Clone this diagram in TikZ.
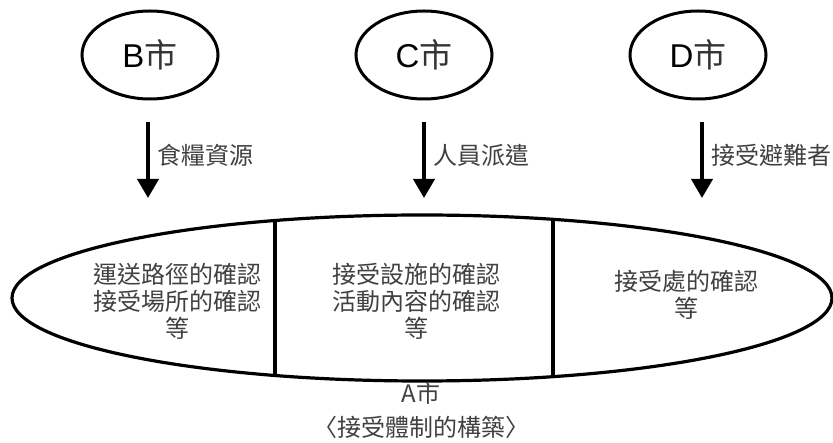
\documentclass[tikz,border=0pt]{standalone}
\usepackage{fontspec}
\setmainfont{Liberation Sans}
\newfontfamily\cjk{Noto Sans CJK TC}
\usetikzlibrary{shapes.geometric,arrows.meta,intersections}
\begin{document}
\begin{tikzpicture}[x=1pt,y=-1pt,
  city/.style={draw, ellipse, line width=3pt, minimum width=136pt, minimum height=88pt, inner sep=0pt,
    font=\fontsize{33}{36}\selectfont},
  flow/.style={line width=3.8pt, -{Triangle[width=21pt,length=19pt]}},
  flowlbl/.style={anchor=west, text=black!75, font=\cjk\fontsize{24}{26}\selectfont, inner sep=0pt},
  region/.style={align=center, text=black!75, font=\cjk\fontsize{24}{27}\selectfont, inner sep=0pt},
  outline/.style={line width=3.2pt}
]
\useasboundingbox (0,0) rectangle (833,443);
% cities
\node[city] (B) at (150,55) {B{\cjk\color{black!80}市}};
\node[city] (C) at (424,55) {C{\cjk\color{black!80}市}};
\node[city] (D) at (698,55) {D{\cjk\color{black!80}市}};
% arrows
\coordinate (b1) at (148,122); \coordinate (b2) at (148,198);
\coordinate (c1) at (424,122); \coordinate (c2) at (424,198);
\coordinate (d1) at (702,122); \coordinate (d2) at (702,198);
\draw[flow] (b1) -- (b2);
\draw[flow] (c1) -- (c2);
\draw[flow] (d1) -- (d2);
\node[flowlbl] (lb) at (157,155) {食糧資源};
\node[flowlbl] (lc) at (433,155) {人員派遣};
\node[flowlbl] (ld) at (711,155) {接受避難者};
% big ellipse
\draw[outline, name path=bigE] (422,298) ellipse [x radius=410, y radius=83];
\path[name path=v1] (275,200) -- (275,400);
\path[name path=v2] (553,200) -- (553,400);
\draw[outline, name intersections={of=bigE and v1, by={v1a,v1b}}] (v1a) -- (v1b);
\draw[outline, name intersections={of=bigE and v2, by={v2a,v2b}}] (v2a) -- (v2b);
% region texts
\node[region] (r1) at (177,301) {運送路徑的確認\\接受場所的確認\\等};
\node[region] (r2) at (416,301) {接受設施的確認\\活動內容的確認\\等};
\node[region] (r3) at (686,295) {接受處的確認\\等};
% caption
\node[region, font=\cjk\fontsize{24}{34}\selectfont] (cap) at (421,410) {A市\\〈接受體制的構築〉};
\end{tikzpicture}
\end{document}
